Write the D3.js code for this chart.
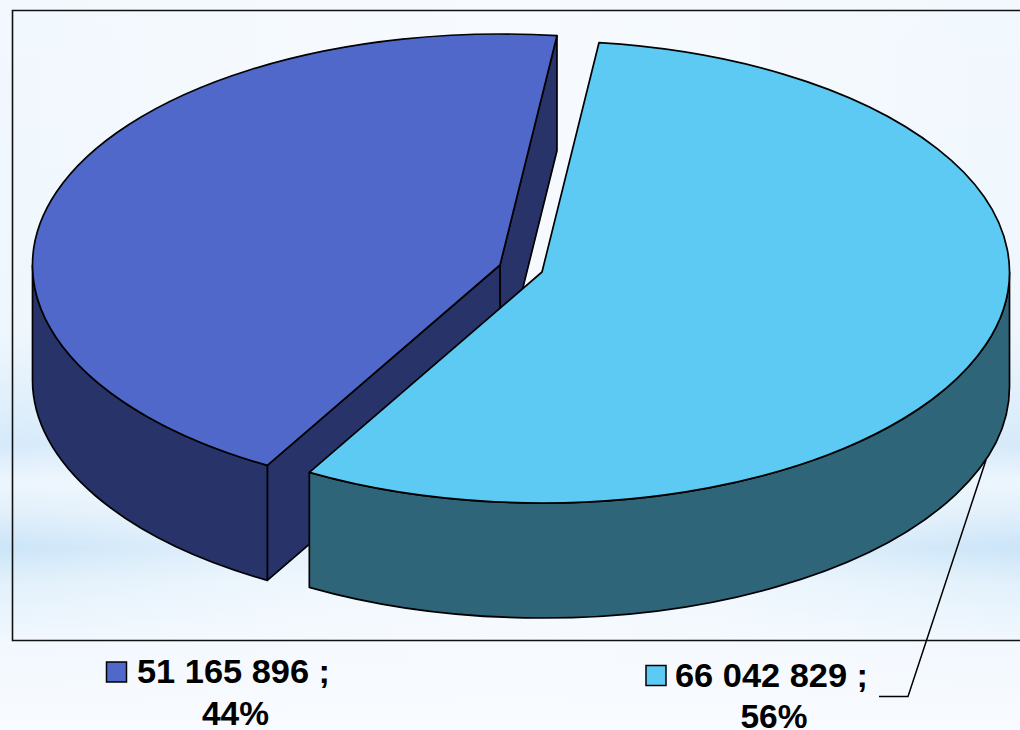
<!DOCTYPE html>
<html><head><meta charset="utf-8">
<script src="https://cdn.jsdelivr.net/npm/d3@7"></script>
<style>html,body{margin:0;padding:0;overflow:hidden;background:#f4f9fe}svg{display:block}
text{font-family:"Liberation Sans",Arial,sans-serif;font-weight:700;font-size:32.5px;fill:#000}</style>
</head><body><svg id="c" width="1020" height="730"></svg>
<script>
const seriesValues = [66042829, 51165896];
const valueLabels = ["66 042 829 ;", "51 165 896 ;"];
const percentLabels = ["56%", "44%"];
const topColors = ["#5ccaf3", "#4f68c9"];
const wallColors = ["#2f6579", "#28336a"];
const centers = [[542, 272], [500, 265]];
const rx = 467.5, ry = 231, depth = 115;

const svg = d3.select("#c");
const defs = svg.append("defs");
const vg = defs.append("linearGradient").attr("id", "bgV").attr("x1", 0).attr("x2", 0).attr("y1", 0).attr("y2", 1);
[[0, "#f2f8fd"], [0.45, "#eff7fd"], [0.55, "#e0effb"], [0.61, "#d6eafa"], [0.66, "#edf6fd"], [0.7, "#e2f0fb"], [0.75, "#cce5f8"], [0.8, "#e2f1fb"], [0.88, "#f2f8fe"], [1, "#f8fbff"]]
  .forEach(s => vg.append("stop").attr("offset", s[0]).attr("stop-color", s[1]));
const hg = defs.append("linearGradient").attr("id", "bgH");
[[0, 0], [0.06, 0.1], [0.3, 0.6], [0.5, 0.8], [0.7, 0.6], [0.96, 0.05], [1, 0]]
  .forEach(s => hg.append("stop").attr("offset", s[0]).attr("stop-color", "#f8fbff").attr("stop-opacity", s[1]));
svg.append("rect").attr("width", 1020).attr("height", 730).attr("fill", "url(#bgV)");
svg.append("rect").attr("width", 1020).attr("height", 730).attr("fill", "url(#bgH)");

// frame: open on the right, as in the reference
svg.append("path").attr("d", d3.line()([[1020, 10.5], [12.5, 10.5], [12.5, 640.5], [1020, 640.5]]))
  .attr("fill", "none").attr("stroke", "#111").attr("stroke-width", 1.6);

const rad = d3.scaleLinear().domain([0, 360]).range([0, 2 * Math.PI]);
const arcs = d3.pie().sort(null).startAngle(rad(7)).endAngle(rad(367))(seriesValues);
const pt = (c, a, dy = 0) => [c[0] + rx * Math.sin(a), c[1] - ry * Math.cos(a) + dy];
const f = p => p[0].toFixed(2) + " " + p[1].toFixed(2);
const ell = (p, sweep, large) => `A${rx} ${ry} 0 ${large ? 1 : 0} ${sweep} ${f(p)}`;

function topPath(c, a0, a1) {
  return `M${f(c)}L${f(pt(c, a0))}${ell(pt(c, a1), 1, a1 - a0 > Math.PI)}Z`;
}
function wallPath(c, a0, a1) { // a0..a1 in the visible front half
  return `M${f(pt(c, a0))}${ell(pt(c, a1), 1, false)}L${f(pt(c, a1, depth))}${ell(pt(c, a0, depth), 0, false)}Z`;
}
function cutPath(c, a) {
  return `M${f(c)}L${f(pt(c, a))}L${f(pt(c, a, depth))}L${c[0]} ${c[1] + depth}Z`;
}
const mark = (g, d, fill) => g.append("path").attr("d", d).attr("fill", fill)
  .attr("stroke", "#000").attr("stroke-width", 1.7).attr("stroke-linejoin", "round");

// back slice first, then the front one
[1, 0].forEach(i => {
  const c = centers[i], a = arcs[i], g = svg.append("g");
  const lo = Math.max(a.startAngle, Math.PI / 2), hi = Math.min(a.endAngle, 3 * Math.PI / 2);
  if (i === 1) {
    mark(g, cutPath(c, a.endAngle), wallColors[i]);
    mark(g, cutPath(c, a.startAngle), wallColors[i]);
  }
  if (hi > lo) mark(g, wallPath(c, lo, hi), wallColors[i]);
  mark(g, topPath(c, a.startAngle, a.endAngle), topColors[i]);
});

// leader line
svg.append("path").attr("d", d3.line()([[986, 460], [908, 696.5], [879, 696.5]]))
  .attr("fill", "none").attr("stroke", "#000").attr("stroke-width", 1.5);

// legend-style data labels
const labelPos = [
  { sx: 646, sy: 665.5, x: 675, y: 687, cx: 774, py: 728 },
  { sx: 106.5, sy: 662, x: 137, y: 683, cx: 235.5, py: 725 }
];
labelPos.forEach((p, i) => {
  svg.append("rect").attr("x", p.sx).attr("y", p.sy).attr("width", 20).attr("height", 20)
    .attr("fill", topColors[i]).attr("stroke", "#000").attr("stroke-width", 1.5);
  svg.append("text").attr("x", p.x).attr("y", p.y)
    .attr("textLength", 193).attr("lengthAdjust", "spacingAndGlyphs").text(valueLabels[i]);
  svg.append("text").attr("x", p.cx).attr("y", p.py).attr("text-anchor", "middle")
    .attr("textLength", 67).attr("lengthAdjust", "spacingAndGlyphs").text(percentLabels[i]);
});
</script></body></html>
